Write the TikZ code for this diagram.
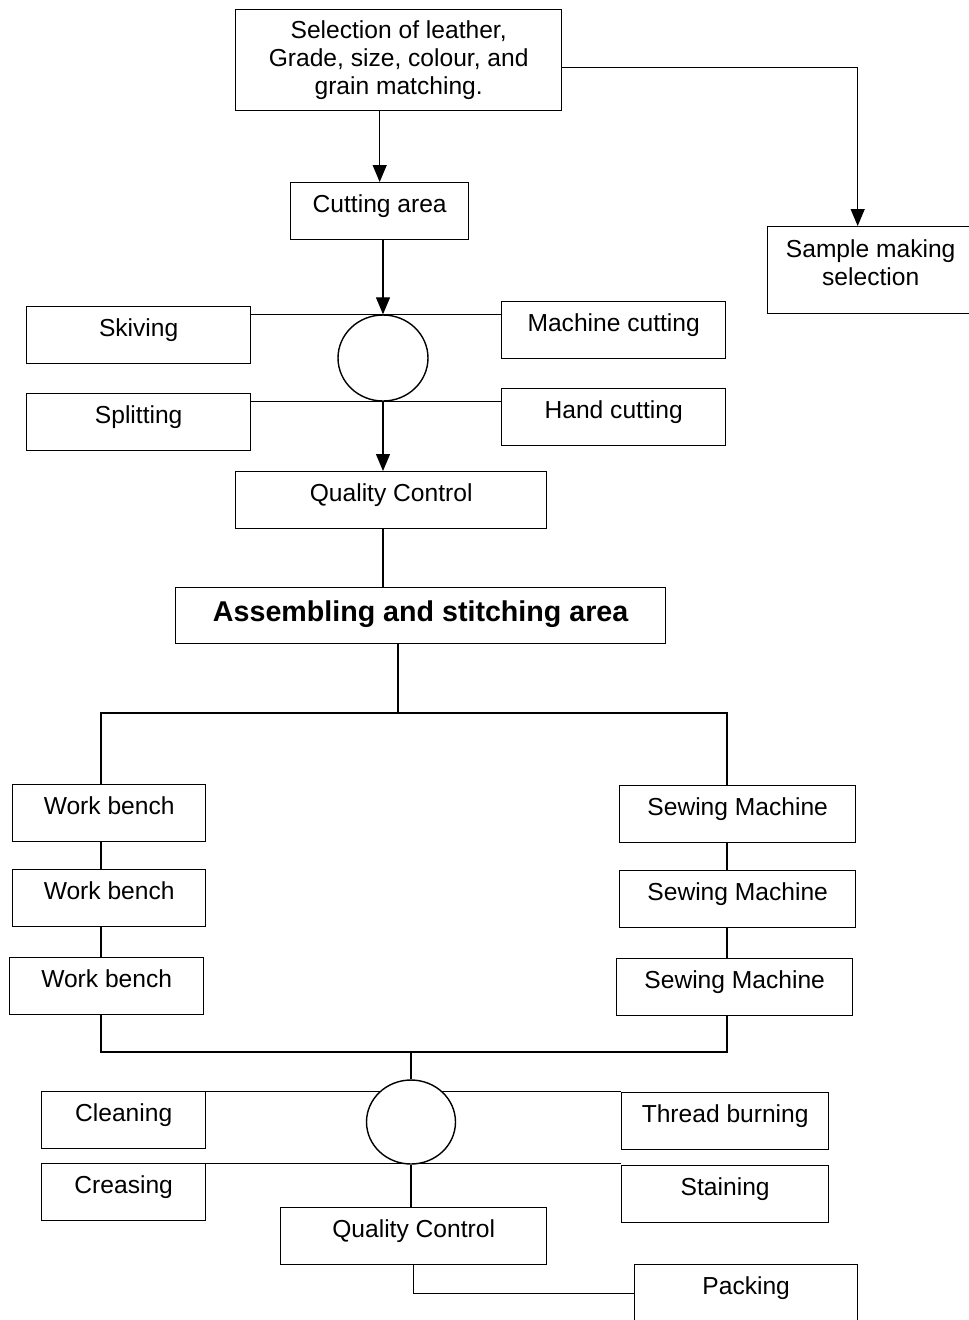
\documentclass[tikz,border=0pt]{standalone}
\usepackage{fontspec}
\setmainfont{Liberation Sans}
\usetikzlibrary{arrows.meta,backgrounds,shapes.geometric}

\begin{document}
\begin{tikzpicture}[x=.02cm,y=-.02cm,line width=.7pt,>={Triangle[length=.34cm,width=.28cm]},
    font=\fontsize{14}{16}\selectfont,
    stage/.style={draw,line width=.8pt,inner sep=0pt,text height=.6cm,text depth=.54cm,anchor=north west,minimum width=#1},
    multi/.style={draw,line width=.8pt,align=center,anchor=north west,minimum width=#1},
    hub/.style={draw,line width=.8pt,ellipse,fill=white,inner sep=0pt,minimum width=1.8cm,minimum height=1.72cm}]
    \useasboundingbox (0,0) rectangle (969,1320);
    % cutting section
    \node[multi=6.52cm,minimum height=2.02cm] (sel) at (235,9) {Selection of leather,\\Grade, size, colour, and\\grain matching.};
    \node[stage=3.56cm] (cut) at (290,182) {Cutting area};
    \node[multi=4.12cm,minimum height=1.74cm] (samp) at (767,226) {Sample making\\selection\rule[-.32cm]{0pt}{.32cm}};
    \node[stage=4.48cm] (skiv) at (26,306) {Skiving};
    \node[stage=4.48cm] (split) at (26,393) {Splitting};
    \node[stage=4.48cm] (mach) at (501,301) {Machine cutting};
    \node[stage=4.48cm] (hand) at (501,388) {Hand cutting};
    \node[hub] (c1) at (383,358) {};
    \node[stage=6.22cm] (qc1) at (235,471) {Quality Control};
    \node[stage=9.8cm,font=\fontsize{16.3}{19}\selectfont\bfseries,text height=.68cm,text depth=.44cm] (asm) at (175,587) {Assembling and stitching area};
    % stitching section
    \node[stage=3.86cm] (wb1) at (12,784) {Work bench};
    \node[stage=3.86cm] (wb2) at (12,869) {Work bench};
    \node[stage=3.88cm] (wb3) at (9,957) {Work bench};
    \node[stage=4.72cm] (sm1) at (619,785) {Sewing Machine};
    \node[stage=4.72cm] (sm2) at (619,870) {Sewing Machine};
    \node[stage=4.72cm] (sm3) at (616,958) {Sewing Machine};
    % finishing section
    \node[stage=3.28cm] (clean) at (41,1091) {Cleaning};
    \node[stage=3.28cm] (crease) at (41,1163) {Creasing};
    \node[stage=4.14cm] (thread) at (621,1092) {Thread burning};
    \node[stage=4.14cm] (stain) at (621,1165) {Staining};
    \node[hub,minimum width=1.78cm,minimum height=1.68cm] (c2) at (411,1122) {};
    \node[stage=5.32cm] (qc2) at (280,1207) {Quality Control};
    \node[stage=4.46cm] (pack) at (634,1264) {Packing};
    \coordinate (fork) at (398,713);
    \coordinate (busL) at (101,713);
    \coordinate (busR) at (727,713);
    \coordinate (joinL) at (101,1052);
    \coordinate (joinR) at (727,1052);

    \draw[->] (sel.south -| cut.north) -- (cut.north);
    \draw[->] ([yshift=-.15cm]sel.east) -| ([xshift=-.26cm]samp.north);
    \draw[->] (cut.south -| c1.north) -- (c1.north);
    \draw (skiv.east |- c1.north) -- (mach.west |- c1.north);
    \draw (split.east |- c1.south) -- (hand.west |- c1.south);
    \draw[->] (c1.south) -- (c1.south |- qc1.north);
    \draw (qc1.south -| c1.south) -- (asm.north -| c1.south);
    \draw (asm.south -| fork) -- (fork);
    \draw (busL |- wb1.north) -- (busL) -- (busR) -- (busR |- sm1.north);
    \foreach \a/\b in {wb1/wb2,wb2/wb3} \draw (busL |- \a.south) -- (busL |- \b.north);
    \foreach \a/\b in {sm1/sm2,sm2/sm3} \draw (busR |- \a.south) -- (busR |- \b.north);
    \draw (busL |- wb3.south) -- (joinL) -- (joinR) -- (busR |- sm3.south);
    \draw (c2.north |- joinL) -- (c2.north);
    \begin{scope}[on background layer]
      \draw (clean.north east) -- (clean.north east -| thread.west);
      \draw (crease.north east) -- (crease.north east -| stain.west);
    \end{scope}
    \draw (c2.south) -- (c2.south |- qc2.north);
    \draw (qc2.south) |- (pack.west);
\end{tikzpicture}
\end{document}
